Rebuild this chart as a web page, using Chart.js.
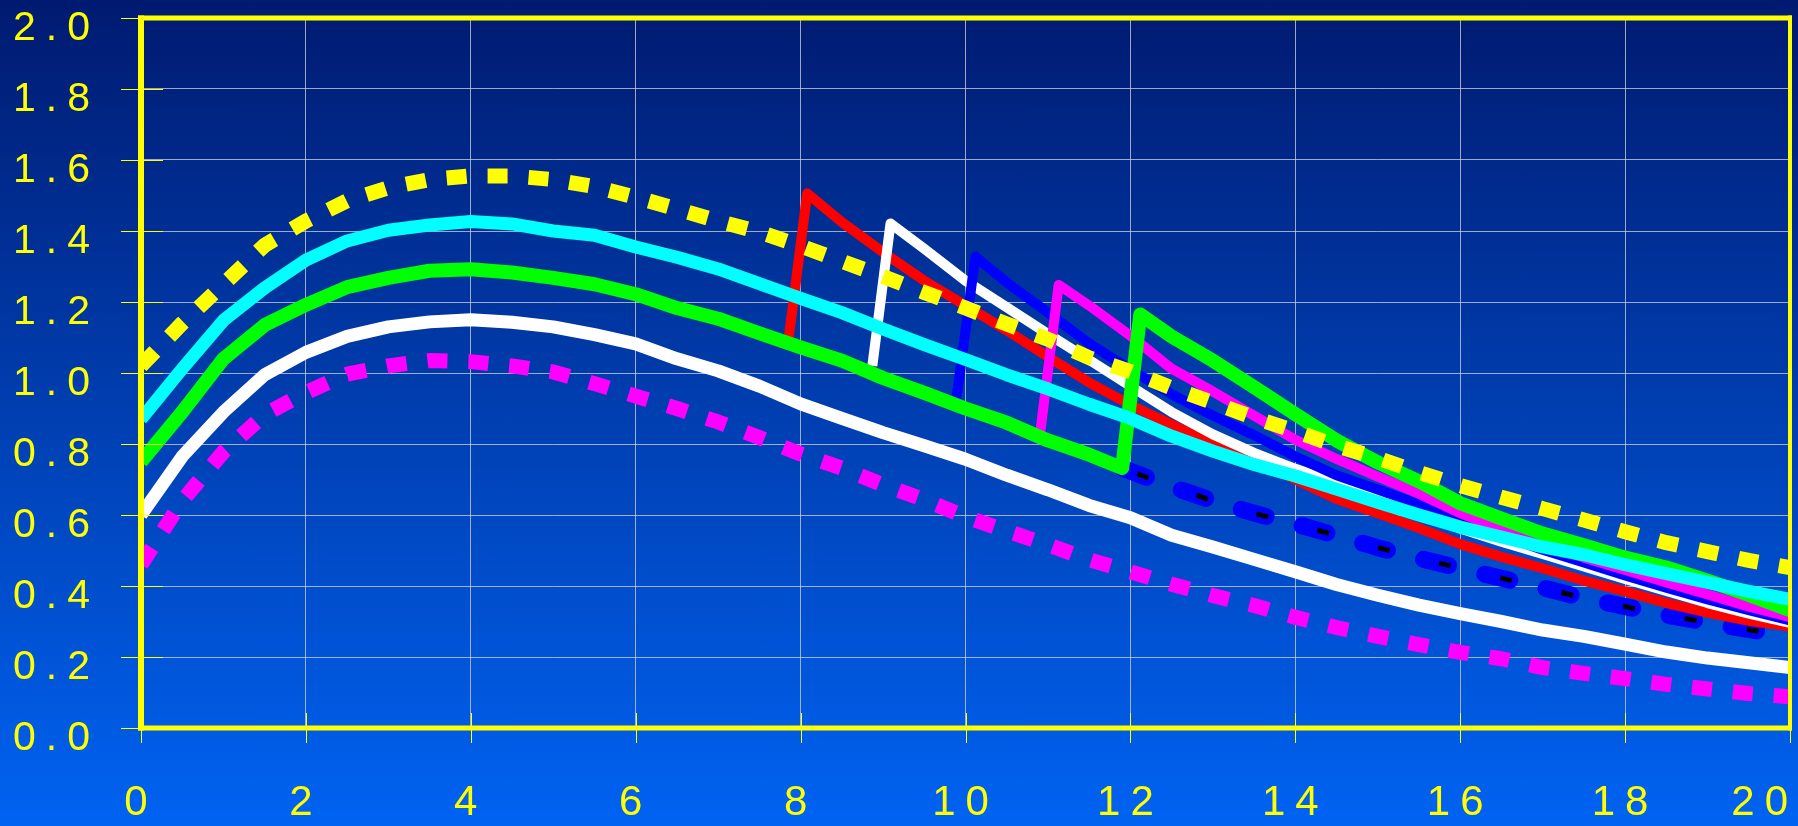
<!DOCTYPE html>
<html>
<head>
<meta charset="utf-8">
<title>Response curves</title>
<script src="https://cdn.jsdelivr.net/npm/chart.js@4.4.1/dist/chart.umd.min.js"></script>
<style>
  html, body { margin: 0; padding: 0; overflow: hidden; background: #0040b0; }
  #wrap { width: 1798px; height: 826px; background: linear-gradient(to bottom, #001a70 0%, #0063f2 100%); }
  canvas { display: block; }
</style>
</head>
<body>
<div id="wrap"><canvas id="chart" width="1798" height="826"></canvas></div>
<script>
// ---- axis ticks ----
const xTickValues = [0, 2, 4, 6, 8, 10, 12, 14, 16, 18, 20];
const xTickLabels = ['0', '2', '4', '6', '8', '10', '12', '14', '16', '18', '20'];
const yTickValues = [0, 0.2, 0.4, 0.6, 0.8, 1.0, 1.2, 1.4, 1.6, 1.8, 2.0];
const yTickLabels = ['0.0', '0.2', '0.4', '0.6', '0.8', '1.0', '1.2', '1.4', '1.6', '1.8', '2.0'];

// ---- shared half-step abscissa ----
const tHalf = [0, 0.5, 1, 1.5, 2, 2.5, 3, 3.5, 4, 4.5, 5, 5.5, 6, 6.5, 7, 7.5, 8, 8.5, 9, 9.5,
               10, 10.5, 11, 11.5, 12, 12.5, 13, 13.5, 14, 14.5, 15, 15.5, 16, 16.5, 17, 17.5,
               18, 18.5, 19, 19.5, 20];

// upper dotted envelope
const upperDotted = [1.02, 1.14, 1.25, 1.36, 1.428, 1.485, 1.522, 1.545, 1.555, 1.555, 1.545,
                     1.525, 1.495, 1.462, 1.428, 1.397, 1.358, 1.315, 1.272, 1.227, 1.183, 1.138,
                     1.095, 1.043, 1.004, 0.958, 0.917, 0.874, 0.836, 0.795, 0.76, 0.72, 0.683,
                     0.65, 0.618, 0.586, 0.553, 0.522, 0.497, 0.472, 0.452];
// cyan curve
const cyanCurve = [0.87, 1.012, 1.148, 1.24, 1.318, 1.372, 1.402, 1.417, 1.427, 1.42, 1.40,
                   1.388, 1.355, 1.326, 1.293, 1.252, 1.21, 1.17, 1.124, 1.08, 1.038, 0.995,
                   0.955, 0.912, 0.872, 0.822, 0.78, 0.742, 0.71, 0.673, 0.636, 0.6, 0.566,
                   0.538, 0.51, 0.488, 0.46, 0.435, 0.41, 0.385, 0.362];
// lower solid white curve
const whiteLower = [0.60, 0.765, 0.89, 0.995, 1.058, 1.103, 1.13, 1.144, 1.15, 1.143, 1.13,
                    1.108, 1.082, 1.04, 1.006, 0.963, 0.913, 0.872, 0.832, 0.795, 0.757, 0.712,
                    0.671, 0.627, 0.592, 0.543, 0.51, 0.475, 0.44, 0.404, 0.374, 0.346, 0.322,
                    0.3, 0.276, 0.258, 0.236, 0.214, 0.197, 0.184, 0.17];
// lower dotted envelope
const lowerDotted = [0.46, 0.64, 0.778, 0.883, 0.945, 0.997, 1.02, 1.035, 1.032, 1.02, 1.003,
                     0.97, 0.935, 0.9, 0.862, 0.818, 0.772, 0.732, 0.685, 0.643, 0.595, 0.555,
                     0.516, 0.474, 0.44, 0.405, 0.373, 0.345, 0.312, 0.283, 0.258, 0.235, 0.213,
                     0.195, 0.17, 0.154, 0.139, 0.123, 0.11, 0.097, 0.088];

// green: baseline until the step at 12, then decay
const greenX = [0, 0.5, 1, 1.5, 2, 2.5, 3, 3.5, 4, 4.5, 5, 5.5, 6, 6.5, 7, 7.5, 8, 8.5, 9, 9.5,
                10, 10.5, 11, 11.5, 11.9, 12.12, 12.5, 13, 13.5, 14, 14.5, 15, 15.5, 16, 16.5,
                17, 17.5, 18, 18.5, 19, 19.5, 20];
const greenY = [0.75, 0.89, 1.04, 1.135, 1.192, 1.242, 1.268, 1.288, 1.292, 1.283, 1.268, 1.25,
                1.222, 1.183, 1.153, 1.112, 1.072, 1.035, 0.986, 0.944, 0.9, 0.86, 0.81, 0.77,
                0.732, 1.165, 1.103, 1.035, 0.96, 0.884, 0.81, 0.748, 0.695, 0.633, 0.59, 0.548,
                0.515, 0.48, 0.452, 0.415, 0.375, 0.332];

// baseline continued without a step (dashed)
const baseTailX = [11.9, 12.5, 13, 13.5, 14, 14.5, 15, 15.5, 16, 16.5, 17, 17.5, 18, 18.5, 19, 19.5, 20];
const baseTailY = [0.732, 0.68, 0.64, 0.605, 0.575, 0.542, 0.508, 0.478, 0.45, 0.422, 0.395,
                   0.366, 0.342, 0.318, 0.297, 0.277, 0.258];

// step at 8 (red)
const redX = [7.85, 8.08, 8.5, 9, 9.5, 10, 10.5, 11, 11.5, 12, 12.5, 13, 13.5, 14, 14.5, 15,
              15.5, 16, 16.5, 17, 17.5, 18, 18.5, 19, 19.5, 20];
const redY = [1.088, 1.506, 1.425, 1.34, 1.26, 1.19, 1.12, 1.046, 0.973, 0.91, 0.855, 0.80,
              0.755, 0.70, 0.645, 0.605, 0.563, 0.518, 0.482, 0.45, 0.415, 0.385, 0.352, 0.325,
              0.302, 0.286];
// step at 9 (white)
const whiteStepX = [8.87, 9.09, 9.5, 10, 10.5, 11, 11.5, 12, 12.5, 13, 13.5, 14, 14.5, 15, 15.5,
                    16, 16.5, 17, 17.5, 18, 18.5, 19, 19.5, 20];
const whiteStepY = [1.02, 1.421, 1.35, 1.26, 1.185, 1.11, 1.037, 0.963, 0.89, 0.827, 0.775, 0.73,
                    0.69, 0.645, 0.605, 0.562, 0.525, 0.49, 0.455, 0.42, 0.386, 0.352, 0.322, 0.296];
// step at 10 (blue)
const blueStepX = [9.88, 10.12, 10.5, 11, 11.5, 12, 12.5, 13, 13.5, 14, 14.5, 15, 15.5, 16, 16.5,
                   17, 17.5, 18, 18.5, 19, 19.5, 20];
const blueStepY = [0.912, 1.328, 1.255, 1.17, 1.083, 1.01, 0.94, 0.88, 0.825, 0.765, 0.712, 0.672,
                   0.63, 0.585, 0.542, 0.502, 0.466, 0.43, 0.395, 0.362, 0.332, 0.303];
// step at 11 (magenta)
const magentaStepX = [10.9, 11.13, 11.5, 12, 12.5, 13, 13.5, 14, 14.5, 15, 15.5, 16, 16.5, 17,
                      17.5, 18, 18.5, 19, 19.5, 20];
const magentaStepY = [0.82, 1.248, 1.19, 1.105, 1.012, 0.948, 0.88, 0.812, 0.758, 0.708, 0.66,
                      0.605, 0.56, 0.518, 0.48, 0.445, 0.41, 0.376, 0.342, 0.312];

// ---- styling ----
const ink = '#ffff00';
const labelFamily = '"Liberation Sans", Arial, Helvetica, sans-serif';
const gridColor = 'rgba(205, 205, 215, 0.78)';

const toPoints = (xs, ys) => xs.map((x, i) => ({ x, y: ys[i] }));

function series(label, xs, ys, color, width, order, extra) {
  return Object.assign({
    label,
    data: toPoints(xs, ys),
    borderColor: color,
    backgroundColor: color,
    borderWidth: width,
    order,
    pointRadius: 0,
    pointHoverRadius: 0,
    tension: 0,
    fill: false,
    borderJoinStyle: 'round',
    borderCapStyle: 'butt'
  }, extra || {});
}

// Lower "order" is painted later (on top).
const datasets = [
  series('Upper envelope', tHalf, upperDotted, '#ffff00', 15, 0, { borderDash: [20, 21] }),
  series('Cyan', tHalf, cyanCurve, '#00ffff', 13, 1),
  series('Step at 12', greenX, greenY, '#00ff00', 14, 2),
  series('Step at 11', magentaStepX, magentaStepY, '#ff00ff', 10, 3),
  series('Step at 10', blueStepX, blueStepY, '#0000ff', 10, 4),
  series('Step at 9', whiteStepX, whiteStepY, '#ffffff', 10, 5),
  series('Step at 8', redX, redY, '#ff0000', 10, 6),
  series('No step (inner)', baseTailX, baseTailY, '#000000', 5, 7, { borderDash: [12, 51], borderDashOffset: -16 }),
  series('No step', baseTailX, baseTailY, '#0000ff', 17, 8, { borderDash: [26, 37], borderCapStyle: 'round' }),
  series('Lower envelope', tHalf, lowerDotted, '#ff00ff', 15, 9, { borderDash: [20, 21] }),
  series('White lower', tHalf, whiteLower, '#ffffff', 13, 10)
];

// Frame, crossing tick marks and the x labels.
const framePlugin = {
  id: 'framePlugin',
  beforeDraw(chart) {
    chart.ctx.letterSpacing = '10px';
  },
  afterDatasetsDraw(chart) {
    const { ctx, chartArea: a, scales } = chart;
    ctx.save();
    ctx.fillStyle = ink;
    yTickValues.forEach(v => {
      const py = Math.round(scales.y.getPixelForValue(v));
      ctx.fillRect(a.left - 20, py, 42, 1);
    });
    xTickValues.forEach(v => {
      const px = Math.round(scales.x.getPixelForValue(v));
      ctx.fillRect(px, a.bottom - 15, 1, 30);
    });
    const h = a.bottom - a.top;
    ctx.fillRect(a.left - 3, a.top - 2.5, 6, h + 5);
    ctx.fillRect(a.right - 2, a.top - 2.5, 4, h + 5);
    ctx.fillRect(a.left - 3, a.top - 2.5, a.right - a.left + 5, 5);
    ctx.fillRect(a.left - 3, a.bottom - 2.5, a.right - a.left + 5, 5);
    ctx.restore();
  },
  afterDraw(chart) {
    const { ctx, scales } = chart;
    ctx.save();
    ctx.letterSpacing = '10px';
    ctx.font = '42px ' + labelFamily;
    ctx.fillStyle = ink;
    ctx.textBaseline = 'middle';
    xTickValues.forEach((v, i) => {
      const last = i === xTickValues.length - 1;
      ctx.textAlign = last ? 'right' : 'center';
      const px = last ? chart.width : scales.x.getPixelForValue(v);
      ctx.fillText(xTickLabels[i], px, 803.5);
    });
    ctx.restore();
  }
};

new Chart(document.getElementById('chart'), {
  type: 'line',
  data: { datasets },
  options: {
    responsive: false,
    animation: false,
    events: [],
    layout: { padding: { top: 18, right: 8, left: 0, bottom: 0 } },
    plugins: { legend: { display: false }, tooltip: { enabled: false } },
    scales: {
      x: {
        type: 'linear',
        min: 0,
        max: 20,
        ticks: { stepSize: 2, display: false },
        grid: { color: gridColor, lineWidth: 1, drawTicks: false },
        border: { display: false },
        afterFit(s) { s.height = 98; s.paddingLeft = 0; s.paddingRight = 0; }
      },
      y: {
        type: 'linear',
        min: 0,
        max: 2,
        ticks: {
          stepSize: 0.2,
          autoSkip: false,
          color: ink,
          font: { family: labelFamily, size: 41 },
          padding: 41,
          labelOffset: 10.5,
          callback: (v, i) => yTickLabels[i]
        },
        grid: { color: gridColor, lineWidth: 1, drawTicks: false },
        border: { display: false },
        afterFit(s) { s.width = 141; s.paddingTop = 0; s.paddingBottom = 0; }
      }
    }
  },
  plugins: [framePlugin]
});
</script>
</body>
</html>
